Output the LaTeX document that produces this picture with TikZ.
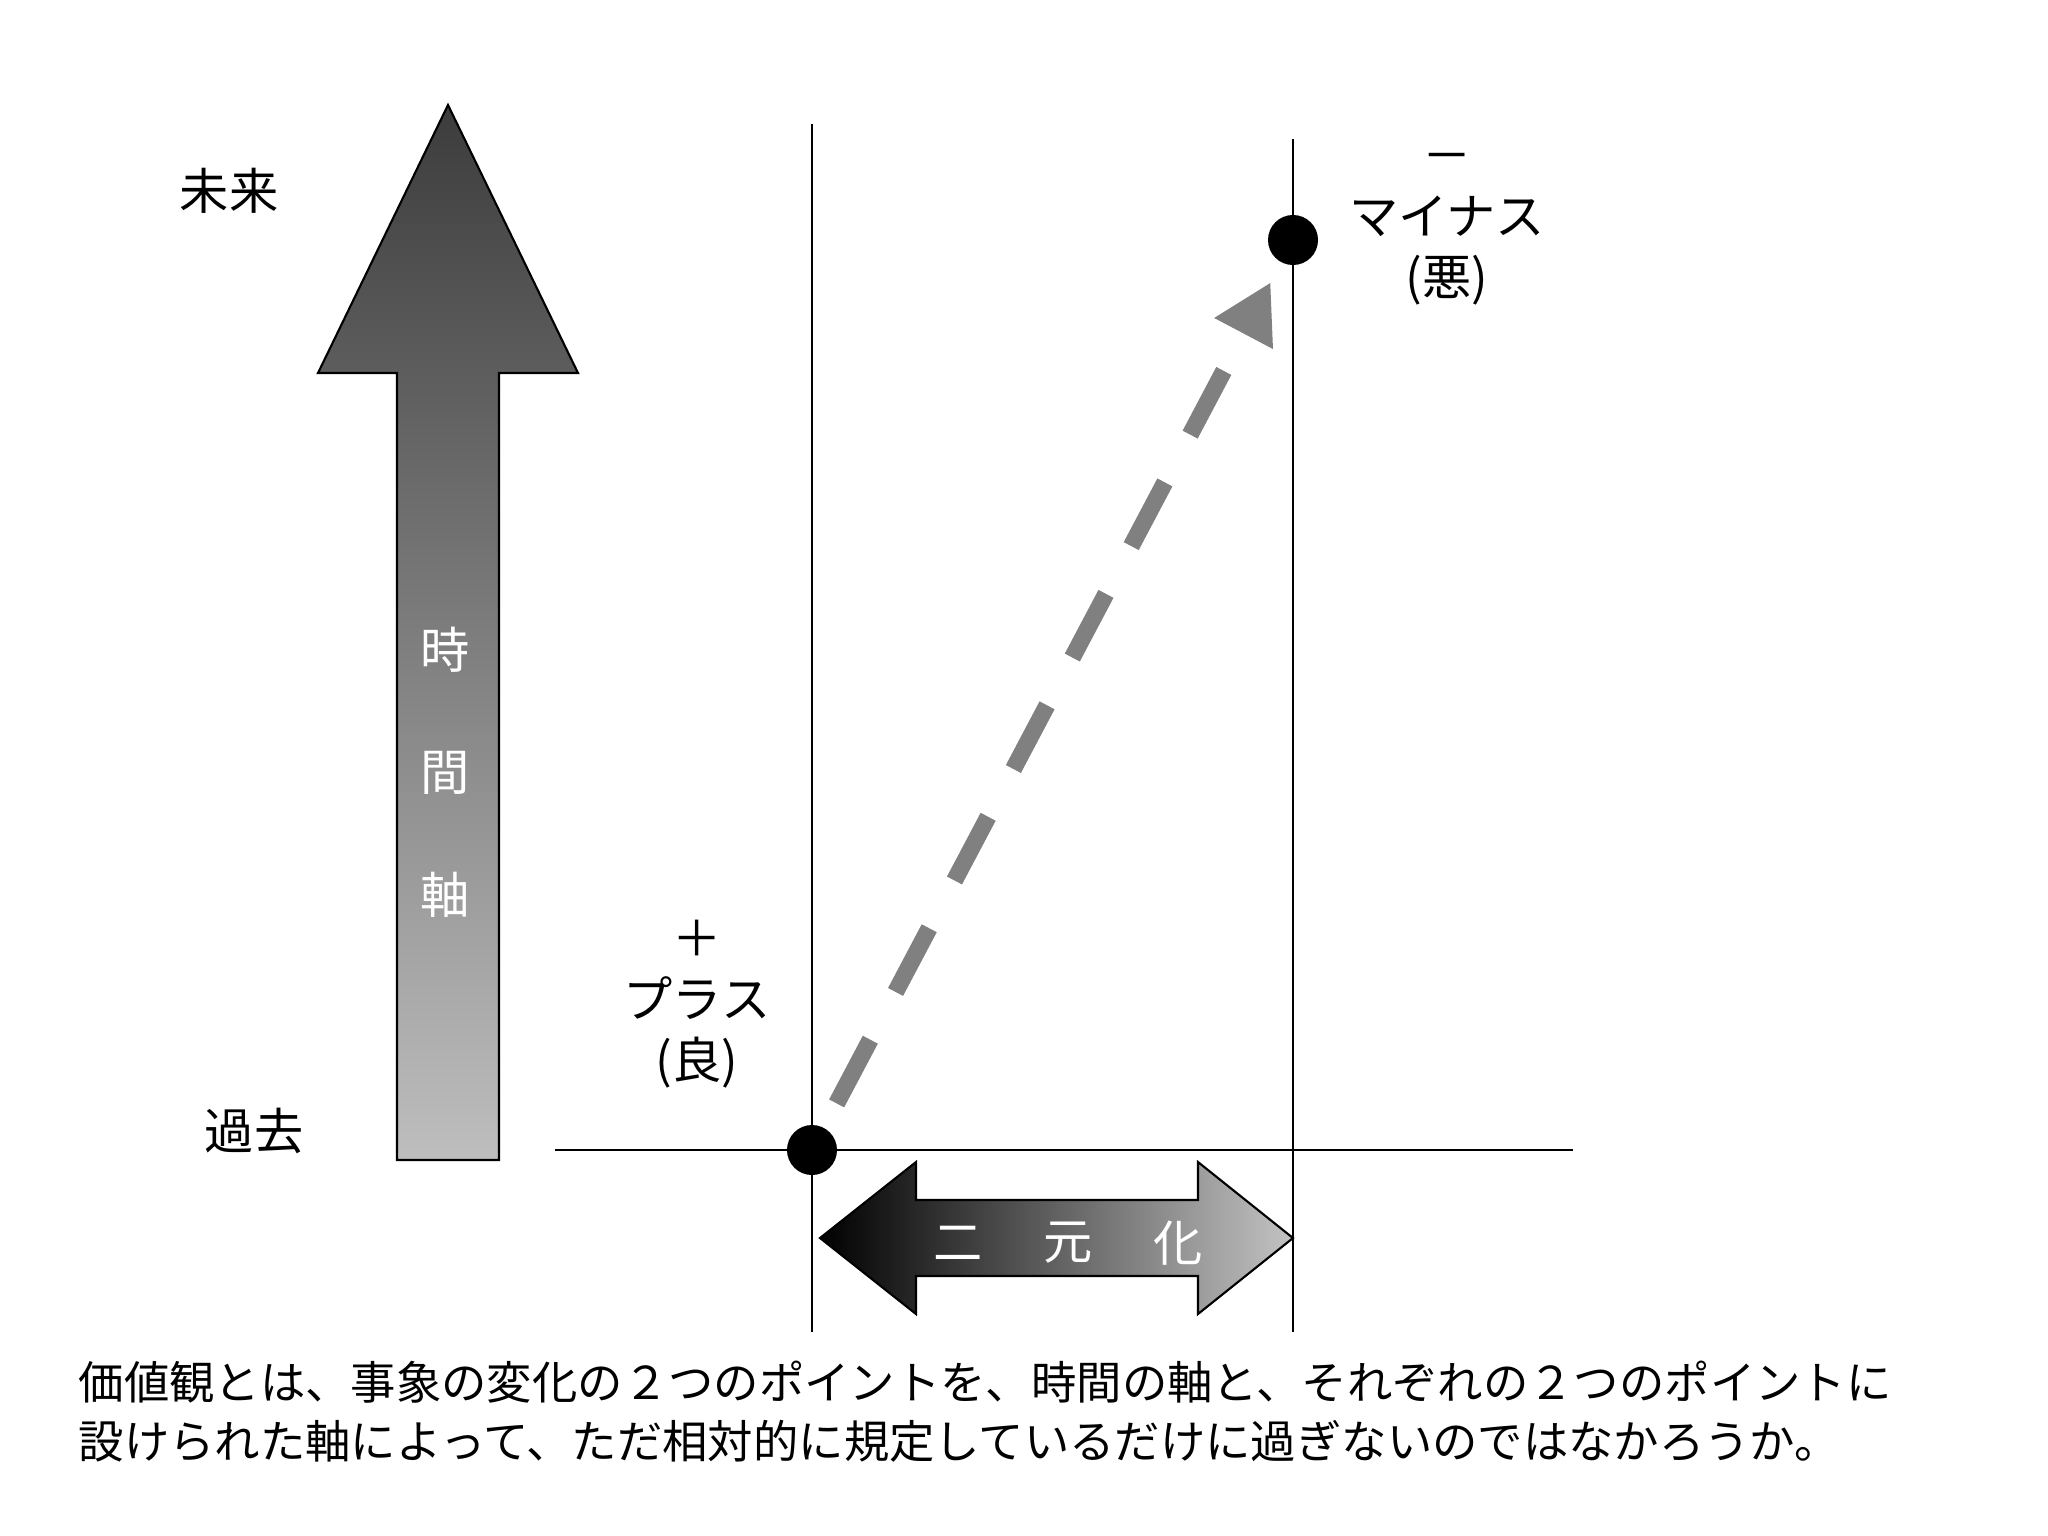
\documentclass[tikz,border=0pt]{standalone}
\usepackage{fontspec}
\setmainfont{Noto Sans CJK JP}
\usetikzlibrary{arrows.meta}

\definecolor{darkG}{RGB}{60,60,60}
\definecolor{lightG}{RGB}{190,190,190}
\definecolor{rightG}{RGB}{195,195,195}
\definecolor{dashG}{RGB}{128,128,128}

\tikzstyle{lS}=[inner sep = 0pt, font=\fontsize{14pt}{17.3pt}\selectfont, align=center]
\tikzstyle{wS}=[inner sep = 0pt, text=white, font=\fontsize{14pt}{17pt}\selectfont]
\tikzstyle{pS}=[circle, fill=black, minimum size = 0.5cm, inner sep = 0pt]
\tikzstyle{aS}=[line width=0.6pt, draw=black]
\tikzstyle{dA}=[line width=0.17cm, draw=dashG, dash pattern=on 0.72cm off 0.54cm, -{Triangle[length=0.58cm,width=0.62cm]}, shorten <=0.27cm, shorten >=0.22cm]
\tikzstyle{tS}=[inner sep = 0pt, font=\fontsize{12.9pt}{16.8pt}\selectfont, align=left]

\begin{document}
\begin{tikzpicture}[x=0.01cm, y=-0.01cm]
                \useasboundingbox (0,0) rectangle (2048,1536);
                % time arrow
                \shade[top color=darkG, bottom color=lightG, draw=black, line width=0.6pt]
                    (448,105) -- (578,373) -- (499,373) -- (499,1160) -- (397,1160)
                    -- (397,373) -- (318,373) -- cycle;
                \draw (445,650) node[wS] (t1) {時};
                \draw (445,773) node[wS] (t2) {間};
                \draw (445,895) node[wS] (t3) {軸};
                \draw (229,191) node[lS] (future) {未来};
                \draw (254,1131) node[lS] (past) {過去};
                % axes
                \draw[aS] (555,1150) -- (1573,1150);
                \draw[aS] (812,124) -- (812,1332);
                \draw[aS] (1293,139) -- (1293,1332);
                % two-way arrow
                \shade[left color=black, right color=rightG, draw=black, line width=0.6pt]
                    (820,1238) -- (916,1162) -- (916,1200) -- (1198,1200) -- (1198,1162)
                    -- (1293,1238) -- (1198,1314) -- (1198,1276) -- (916,1276)
                    -- (916,1314) -- cycle;
                \draw (958,1243) node[wS] (d1) {二};
                \draw (1068,1243) node[wS] (d2) {元};
                \draw (1178,1243) node[wS] (d3) {化};
                % points
                \draw (812,1150) node[pS] (pA) {};
                \draw (1293,240) node[pS] (pB) {};
                \draw (697,1004) node[lS] (plus) {＋\\プラス\\(良)};
                \draw (1447,229) node[lS] (minus) {－\\マイナス\\(悪)};
                \path
                    (pA) edge[dA] (pB)
                ;
                \draw (78,1412) node[tS, anchor=west] (note) {価値観とは、事象の変化の２つのポイントを、時間の軸と、それぞれの２つのポイントに\\設けられた軸によって、ただ相対的に規定しているだけに過ぎないのではなかろうか。};
        \end{tikzpicture}
\end{document}
